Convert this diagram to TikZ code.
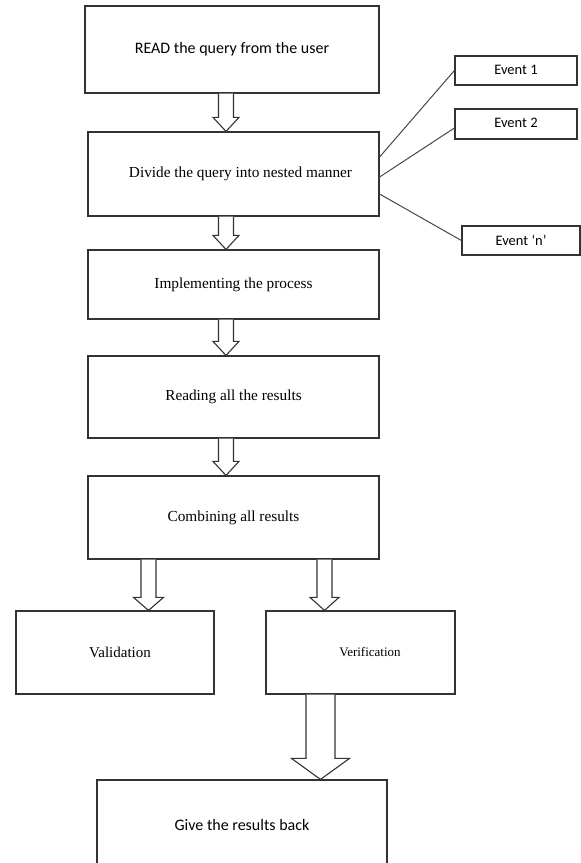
\documentclass[tikz,border=0pt]{standalone}
\usepackage{fontspec}
\setmainfont{Liberation Serif}
\newfontfamily\calibri{Carlito}
\usetikzlibrary{calc}
\definecolor{ink}{HTML}{333333}
\newcommand{\ArrowX}{226}
% block arrow: x centre, from node, to node, half shaft, half head, head length
\newcommand{\blockarrow}[6]{%
  \draw[blk] (#1-#4,0 |- #2.south) -- ($(#1-#4,0 |- #3.north)+(0,-#6)$) -- ($(#1-#5,0 |- #3.north)+(0,-#6)$)
    -- (#1,0 |- #3.north) -- ($(#1+#5,0 |- #3.north)+(0,-#6)$) -- ($(#1+#4,0 |- #3.north)+(0,-#6)$)
    -- (#1+#4,0 |- #2.south);
}

\begin{document}
\begin{tikzpicture}[
    x=1pt, y=-1pt, ink,
    box/.style={draw=ink, line width=1.2pt, fill=white, inner sep=0pt, text=black},
    stepbox/.style={box, minimum width=291pt, font=\fontsize{15.3}{18}\selectfont},
    event/.style={box, minimum width=122pt, minimum height=29pt, font=\calibri\fontsize{14.5}{17}\selectfont},
    blk/.style={draw=ink, line width=1.1pt, fill=white, line join=miter},
    link/.style={draw=ink!90, line width=1pt},
  ]
\useasboundingbox (0,0) rectangle (581,863);

% --- The main steps ----------------------------------------------------------
\node[box, minimum width=294pt, minimum height=87pt, font=\calibri\fontsize{16}{19}\selectfont] (read) at (232,49.5) {READ the query from the user};
\node[stepbox, minimum height=84pt] (divide) at (233.5,174) {\hspace*{14pt}\raisebox{-7pt}{Divide the query into nested manner}};
\node[stepbox, minimum height=69pt] (impl) at (233.5,284.5) {\raisebox{-1pt}{Implementing the process}};
\node[stepbox, minimum height=82pt] (reading) at (233.5,397) {Reading all the results};
\node[stepbox, minimum height=83pt] (combine) at (233.5,517.5) {Combining all results};

% --- The two checks ------------------------------------------------------------
\node[box, minimum width=198pt, minimum height=83pt, font=\fontsize{15}{18}\selectfont] (valid) at (115,652.5) {\hspace*{10pt}\raisebox{-3pt}{Validation}};
\node[box, minimum width=189pt, minimum height=83pt, font=\fontsize{13}{16}\selectfont] (verif) at (360.5,652.5) {\hspace*{19pt}Verification};
\node[box, minimum width=290pt, minimum height=90pt, font=\calibri\fontsize{16}{19}\selectfont] (give) at (242,825) {Give the results back};

% --- The events ------------------------------------------------------------------
\node[event] (ev1) at (516,70.5) {\raisebox{2pt}{Event 1}};
\node[event, minimum height=30pt] (ev2) at (516,124) {\raisebox{2pt}{Event 2}};
\node[event, minimum width=118pt] (evn) at (521,240.5) {Event ‘n’};
\draw[link] ($(divide.east)+(0,-17)$) -- (ev1.west);
\draw[link] ($(divide.east)+(0,3)$) -- ($(ev2.west)+(0,4)$);
\draw[link] ($(divide.east)+(0,20)$) -- (evn.west);

% --- The arrows ----------------------------------------------------------------
\blockarrow{\ArrowX}{read}{divide}{7.5}{13}{14}
\blockarrow{\ArrowX}{divide}{impl}{7.5}{13}{14}
\blockarrow{\ArrowX}{impl}{reading}{7.5}{13}{14}
\blockarrow{\ArrowX}{reading}{combine}{7.5}{13}{14}
\blockarrow{148.5}{combine}{valid}{7.5}{15}{13}
\blockarrow{324.5}{combine}{verif}{7.5}{14.5}{13}
\blockarrow{320.5}{verif}{give}{14.5}{29}{21}

\end{tikzpicture}
\end{document}
